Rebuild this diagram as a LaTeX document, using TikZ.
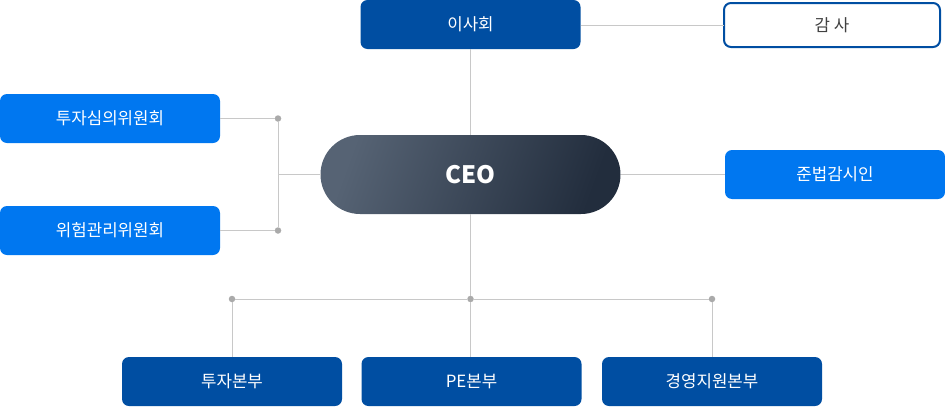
\documentclass[tikz,border=0pt]{standalone}
\usepackage{fontspec}
\setmainfont{Noto Sans CJK KR}
\usepackage{tikz}
\usetikzlibrary{positioning}

\definecolor{darkblue}{HTML}{004EA2}
\definecolor{lightblue}{HTML}{0077F0}
\definecolor{ceoleft}{HTML}{566374}
\definecolor{ceoright}{HTML}{222D3D}
\definecolor{linegray}{HTML}{C8C8C8}
\definecolor{dotgray}{HTML}{AAAAAA}

\begin{document}
\begin{tikzpicture}[x=1pt, y=-1pt,
  box/.style={rectangle, rounded corners=7pt, minimum width=220pt, minimum height=49pt,
    inner sep=0pt, outer sep=0pt, text=white, font=\fontsize{16.8}{20}\selectfont},
  dark box/.style={box, fill=darkblue},
  light box/.style={box, fill=lightblue},
  line/.style={draw=linegray, line width=1pt},
  dot/.style={circle, fill=dotgray, inner sep=0pt, minimum size=6.5pt}]

\useasboundingbox (0,0) rectangle (945,407);

\node[dark box] (board) at (470.5,24.5) {이사회};
\node[box, fill=white, draw=darkblue, line width=2pt, text=black!75,
  minimum width=216pt, minimum height=44pt] (audit) at (832,25) {감 사};
\node[light box] (invest) at (110,118.5) {투자심의위원회};
\node[light box] (risk) at (110,230.5) {위험관리위원회};
\node[rectangle, rounded corners=39.5pt, minimum width=300pt, minimum height=79pt,
  inner sep=0pt, outer sep=0pt, left color=ceoleft, right color=ceoright, shading angle=70,
  text=white, font=\fontsize{24}{28}\selectfont\bfseries] (ceo) at (470.5,174.5) {CEO};
\node[light box] (comp) at (835,174.5) {준법감시인};
\node[dark box] (div1) at (232,381.5) {투자본부};
\node[dark box] (div2) at (471.5,381.5) {PE본부};
\node[dark box] (div3) at (712,381.5) {경영지원본부};

% junction dots
\node[dot] (j1) at (278,118.5) {};
\node[dot] (j2) at (278,230.5) {};
\node[dot] (b1) at (232,299) {};
\node[dot] (b2) at (470.5,299) {};
\node[dot] (b3) at (712,299) {};

\draw[line] (board.east |- audit.west) -- (audit.west);
\draw[line] (board.south) -- (ceo.north);
\draw[line] (ceo.east) -- (comp.west |- ceo.east);
\draw[line] (invest.east) -- (j1);
\draw[line] (risk.east) -- (j2);
\draw[line] (j1) -- (j2);
\draw[line] (ceo.west) -- (ceo.west -| j1);
\draw[line] (ceo.south) -- (b2);
\draw[line] (b1) -- (b2) -- (b3);
\draw[line] (b1) -- (b1 |- div1.north);
\draw[line] (b2) -- (b2 |- div2.north);
\draw[line] (b3) -- (b3 |- div3.north);
\end{tikzpicture}
\end{document}
